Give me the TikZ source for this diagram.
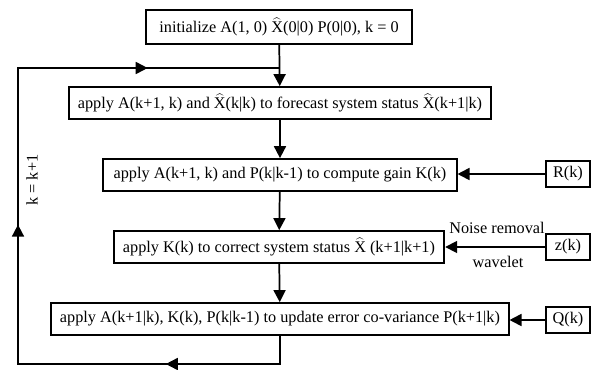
\documentclass[tikz,border=0pt]{standalone}
\usepackage{fontspec}
\setmainfont{Liberation Serif}
\usetikzlibrary{arrows.meta,decorations.markings}

\newcommand{\xhat}{\ensuremath{\widehat{\mbox{X}}}}

\tikzset{
  blk/.style={draw, line width=1.3pt, minimum height=24pt, inner sep=2pt, font=\fontsize{12.2}{14}\selectfont},
  sideblk/.style={blk, minimum width=33pt, minimum height=19pt},
  flow/.style={line width=1.3pt, -{Triangle[length=9pt,width=9pt]}},
  lbl/.style={font=\fontsize{12.2}{14}\selectfont, inner sep=1pt},
  loopmark/.style={decoration={markings,
      mark=at position 0.168 with {\arrow{Triangle[length=9pt,width=9pt]}},
      mark=at position 0.507 with {\arrow{Triangle[length=9pt,width=9pt]}},
      mark=at position 0.845 with {\arrow{Triangle[length=9pt,width=9pt]}}},
    postaction={decorate}},
}

\begin{document}
\begin{tikzpicture}[x=0.75pt,y=0.75pt,yscale=-1,xscale=1]
\useasboundingbox (0,0) rectangle (601,369);

% Main blocks
\node[blk, minimum width=200pt, minimum height=25pt] (init) at (279,27) {initialize A(1, 0) \xhat(0|0) P(0|0), k = 0};
\node[blk, minimum width=316pt] (fcst) at (280,103) {apply A(k+1, k) and \xhat(k|k) to forecast system status \xhat(k+1|k)};
\node[blk, minimum width=265pt] (gain) at (280,175) {apply A(k+1, k) and P(k|k-1) to compute gain K(k)};
\node[blk, minimum width=248pt] (corr) at (279,247) {apply K(k) to correct system status \xhat\ (k+1|k+1)};
\node[blk, minimum width=343pt] (updt) at (280,319) {apply A(k+1|k), K(k), P(k|k-1) to update error co-variance P(k+1|k)};

% Inputs
\node[sideblk] (rk) at (568,174) {R(k)};
\node[sideblk] (zk) at (568,247) {z(k)};
\node[sideblk] (qk) at (568,320) {Q(k)};

% Labels
\node[lbl] (noise) at (497,228) {Noise removal};
\node[lbl] (wvlt) at (498,262) {wavelet};
\node[lbl, rotate=90] (incr) at (32,180) {k = k+1};

% Loop corners
\coordinate (lb) at (18,364);
\coordinate (lt) at (18,68);

% Connectors
\draw[flow] (init) -- (fcst);
\draw[flow] (fcst) -- (gain);
\draw[flow] (gain) -- (corr);
\draw[flow] (corr) -- (updt);
\draw[flow] (rk.west) -- (rk.west -| gain.east);
\draw[flow] (zk.west) -- (zk.west -| corr.east);
\draw[flow] (qk.west) -- (qk.west -| updt.east);
\draw[line width=1.3pt, loopmark] (updt.south) |- (lb) -- (lt) -- (lt -| init.south);

\end{tikzpicture}
\end{document}
